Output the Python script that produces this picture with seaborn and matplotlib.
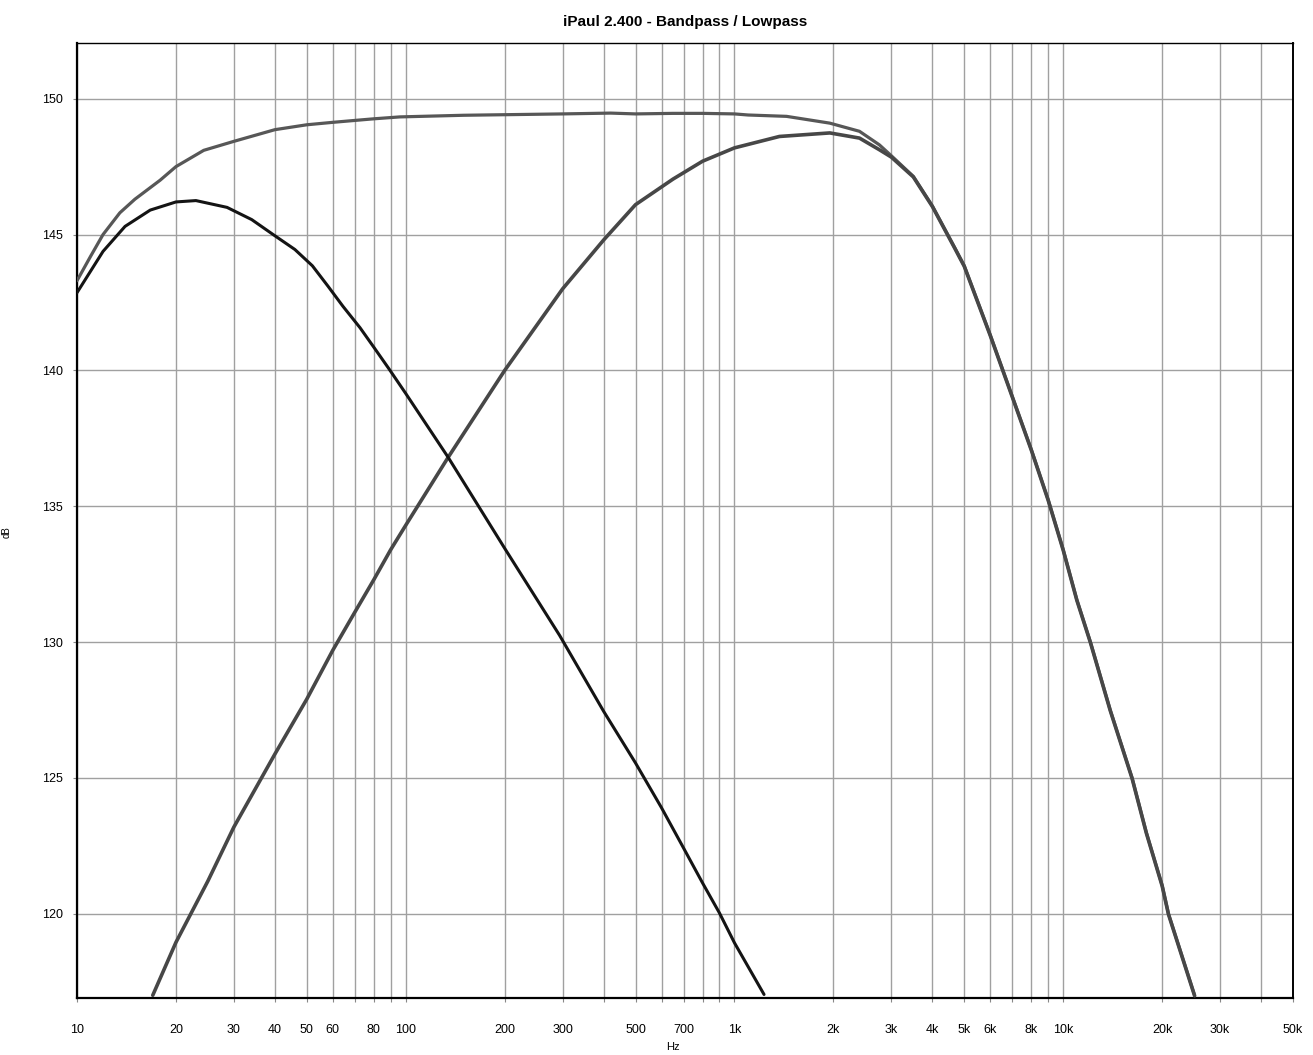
import numpy as np
import pandas as pd
import matplotlib
matplotlib.use("Agg")
import matplotlib.pyplot as plt
import seaborn as sns

# ---- data ----
sum_hz = [10, 11, 12, 13.5, 15, 17.9, 20, 24.3, 30, 40, 50, 60, 70, 80, 96, 150, 300, 420,
          500, 650, 800, 1000, 1100, 1440, 1950, 2400, 2760, 3000, 3500, 4000, 4690, 5000,
          6000, 7000, 8000, 9000, 10000, 11000, 12100, 13900, 16200, 17900, 20000, 20900, 25100]
sum_db = [143.3, 144.2, 145.0, 145.8, 146.3, 147.0, 147.5, 148.1, 148.43, 148.86, 149.04, 149.13,
          149.2, 149.26, 149.33, 149.39, 149.44, 149.47, 149.44, 149.46, 149.46, 149.44, 149.4,
          149.35, 149.1, 148.8, 148.3, 147.9, 147.14, 146.05, 144.49, 143.85, 141.3, 139.04,
          137.08, 135.24, 133.4, 131.56, 130.0, 127.5, 125.0, 122.99, 121.04, 120.0, 117.0]

low_hz = [10, 12, 14, 16.7, 20, 23, 28.6, 34, 39.5, 46, 52, 58, 64.4, 72.6, 80, 89, 100, 134.6,
          200, 294, 400, 500, 600, 700, 800, 900, 1000, 1230]
low_db = [142.86, 144.38, 145.3, 145.9, 146.2, 146.25, 146.0, 145.55, 145.0, 144.45, 143.85,
          143.1, 142.36, 141.57, 140.85, 140.05, 139.15, 136.8, 133.45, 130.24, 127.45, 125.55,
          123.9, 122.42, 121.13, 120.03, 118.93, 117.03]

high_hz = [17.0, 20, 25, 30, 40, 50, 60, 70, 80, 90, 100, 134.6, 200, 300, 400, 500, 650, 800,
           1000, 1370, 1950, 2400, 2760, 3000, 3500, 4000, 4690, 5000, 6000, 7000, 8000, 9000,
           10000, 11000, 12100, 13900, 16200, 17900, 20000, 20900, 25100]
high_db = [117.0, 118.95, 121.2, 123.19, 125.88, 127.9, 129.7, 131.1, 132.3, 133.4, 134.3,
           136.8, 140.0, 143.0, 144.8, 146.1, 147.04, 147.7, 148.19, 148.61, 148.74, 148.55,
           148.12, 147.85, 147.12, 146.03, 144.47, 143.83, 141.28, 139.02, 137.06, 135.22,
           133.38, 131.54, 129.98, 127.48, 124.98, 122.97, 121.02, 119.98, 116.98]

x_tick_vals = [10, 20, 30, 40, 50, 60, 70, 80, 90, 100, 200, 300, 400, 500, 600, 700, 800, 900,
               1000, 2000, 3000, 4000, 5000, 6000, 7000, 8000, 9000, 10000, 20000, 30000, 40000, 50000]
x_tick_labels = ["10", "20", "30", "40", "50", "60", "", "80", "", "100", "200", "300", "", "500",
                 "", "700", "", "", "1k", "2k", "3k", "4k", "5k", "6k", "", "8k", "", "10k",
                 "20k", "30k", "", "50k"]
y_tick_vals = [120, 125, 130, 135, 140, 145, 150]

title = "iPaul 2.400 - Bandpass / Lowpass"

# ---- plotting ----
sns.set_style("white")
plt.rcParams["font.family"] = ["Liberation Sans", "DejaVu Sans"]
plt.rcParams["text.color"] = "black"
plt.rcParams["axes.labelcolor"] = "black"

W, H = 1313, 1055
fig = plt.figure(figsize=(W / 100, H / 100), dpi=100)
ax = fig.add_axes([77 / W, 1 - 998 / H, (1293 - 77) / W, (998 - 43) / H])

df_sum = pd.DataFrame({"Hz": sum_hz, "dB": sum_db})
df_low = pd.DataFrame({"Hz": low_hz, "dB": low_db})
df_high = pd.DataFrame({"Hz": high_hz, "dB": high_db})

sns.lineplot(data=df_sum, x="Hz", y="dB", ax=ax, color="#575757", lw=2.3,
             estimator=None, sort=False, zorder=3)
sns.lineplot(data=df_high, x="Hz", y="dB", ax=ax, color="#474747", lw=2.6,
             estimator=None, sort=False, zorder=4)
sns.lineplot(data=df_low, x="Hz", y="dB", ax=ax, color="#141414", lw=2.2,
             estimator=None, sort=False, zorder=5)

ax.set_xscale("log")
ax.set_xlim(10, 50000)
ax.set_ylim(116.9, 152.05)

ax.set_xticks(x_tick_vals)
ax.set_xticklabels(x_tick_labels)
ax.xaxis.set_minor_locator(matplotlib.ticker.NullLocator())
ax.set_yticks(y_tick_vals)
ax.set_yticklabels([str(v) for v in y_tick_vals])

ax.grid(True, which="major", color="#a0a0a0", lw=1.0, zorder=0)
ax.set_axisbelow(True)

ax.tick_params(axis="x", which="major", direction="out", length=3, width=0.8,
               color="#888888", pad=16, labelsize=9, labelcolor="black", bottom=True)
ax.tick_params(axis="y", which="major", direction="out", length=3, width=0.8,
               color="#888888", pad=7, labelsize=9, labelcolor="black", left=True)

for side, lw in (("left", 1.6), ("bottom", 1.6), ("top", 1.0), ("right", 1.4)):
    ax.spines[side].set_visible(True)
    ax.spines[side].set_color("black")
    ax.spines[side].set_linewidth(lw)

ax.set_xlabel("Hz", fontsize=8, color="black")
ax.xaxis.set_label_coords((673 - 77) / 1216, (998 - 1042) / 955)
ax.set_ylabel("dB", fontsize=7, color="black")
ax.yaxis.set_label_coords((12 - 77) / 1216, (998 - 532) / 955)

ax.set_title(title, fontsize=11, fontweight="bold", pad=12, color="black")

fig.savefig("out.png", dpi=100, facecolor="white")
